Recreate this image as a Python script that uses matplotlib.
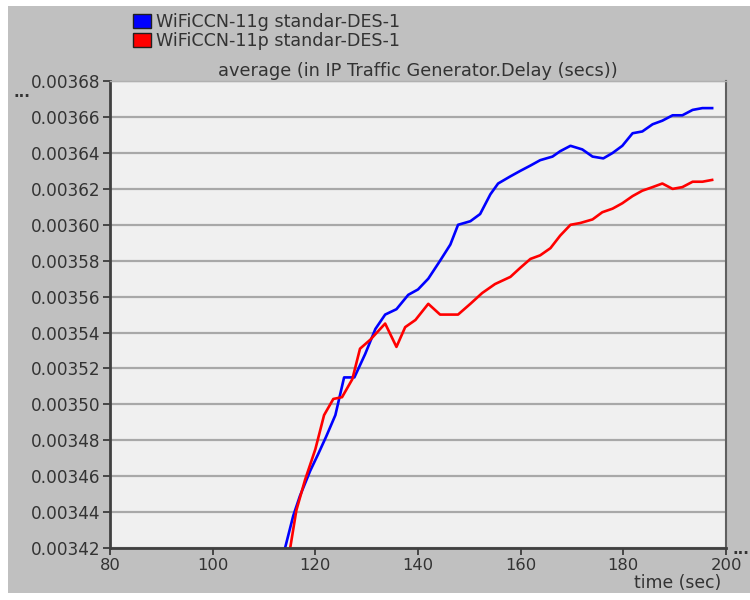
import numpy as np
import matplotlib
matplotlib.use("Agg")
import matplotlib.pyplot as plt
from matplotlib.patches import Patch, Rectangle

plt.rcParams['font.family'] = ['DejaVu Sans']

# series (time in sec, delay in secs)
t_11g = [114.1, 115.7, 117.0, 119.0, 120.5, 122.1, 123.9, 125.6, 127.6, 129.7,
         131.7, 133.6, 135.8, 138.1, 140.0, 142.0, 144.3, 146.3, 147.8, 150.2,
         152.1, 154.1, 155.6, 158.0, 159.9, 161.9, 163.8, 166.2, 167.7, 169.7,
         172.0, 174.0, 176.1, 177.9, 179.8, 181.8, 183.7, 185.7, 187.6, 189.6,
         191.5, 193.5, 195.4, 197.3]
d_11g = [0.003420, 0.003438, 0.003449, 0.003463, 0.003472, 0.003482, 0.003494,
         0.003515, 0.003515, 0.003528, 0.003542, 0.003550, 0.003553, 0.003561,
         0.003564, 0.003570, 0.003580, 0.003589, 0.003600, 0.003602, 0.003606,
         0.003617, 0.003623, 0.003627, 0.003630, 0.003633, 0.003636, 0.003638,
         0.003641, 0.003644, 0.003642, 0.003638, 0.003637, 0.003640, 0.003644,
         0.003651, 0.003652, 0.003656, 0.003658, 0.003661, 0.003661, 0.003664,
         0.003665, 0.003665]

t_11p = [115.1, 116.3, 118.0, 120.0, 121.7, 123.5, 125.2, 127.2, 128.7, 130.7,
         133.6, 135.8, 137.5, 139.5, 142.0, 144.3, 147.8, 150.2, 152.5, 155.0,
         158.0, 159.9, 161.9, 163.8, 165.8, 167.7, 169.7, 171.6, 174.0, 175.9,
         177.9, 179.8, 181.8, 183.7, 185.7, 187.6, 189.6, 191.5, 193.5, 195.4,
         197.3]
d_11p = [0.003420, 0.003441, 0.003458, 0.003475, 0.003494, 0.003503, 0.003504,
         0.003514, 0.003531, 0.003536, 0.003545, 0.003532, 0.003543, 0.003547,
         0.003556, 0.003550, 0.003550, 0.003556, 0.003562, 0.003567, 0.003571,
         0.003576, 0.003581, 0.003583, 0.003587, 0.003594, 0.003600, 0.003601,
         0.003603, 0.003607, 0.003609, 0.003612, 0.003616, 0.003619, 0.003621,
         0.003623, 0.003620, 0.003621, 0.003624, 0.003624, 0.003625]

labels = ['WiFiCCN-11g standar-DES-1', 'WiFiCCN-11p standar-DES-1']
colors = ['#0000ff', '#ff0000']
x_ticks = [80, 100, 120, 140, 160, 180, 200]
y_ticks = np.arange(0.00342, 0.003681, 0.00002)

fig = plt.figure(figsize=(7.5, 6), dpi=100)
fig.patch.set_facecolor('white')
# grey panel behind everything
fig.patches.append(Rectangle((0.0107, 0.0117), 0.995, 0.978, transform=fig.transFigure,
                             facecolor='#c0c0c0', edgecolor='none', zorder=-10))

ax = fig.add_axes([0.1467, 0.0867, 0.8213, 0.778])
ax.set_facecolor('#f0f0f0')

ax.plot(t_11g, d_11g, color=colors[0], lw=1.9)
ax.plot(t_11p, d_11p, color=colors[1], lw=1.9)

ax.set_xlim(80, 200)
ax.set_ylim(0.00342, 0.00368)
ax.set_xticks(x_ticks)
ax.set_yticks(y_ticks)
ax.set_yticklabels(['%.5f' % v for v in y_ticks])
ax.yaxis.grid(True, color='#a8a8a8', lw=1.6)
ax.set_axisbelow(True)

ax.tick_params(axis='both', direction='out', length=5, width=1.2, color='#303030',
               labelcolor='#333333', pad=2)
ax.tick_params(axis='y', labelsize=12.2)
ax.tick_params(axis='x', labelsize=11.8)

for side in ['left', 'bottom']:
    ax.spines[side].set_color('#404040')
    ax.spines[side].set_linewidth(2)
ax.spines['right'].set_color('#606060')
ax.spines['right'].set_linewidth(1.5)
ax.spines['top'].set_color('#b0b0b0')
ax.spines['top'].set_linewidth(1)

ax.set_title('average (in IP Traffic Generator.Delay (secs))', fontsize=12.8,
             color='#333333', pad=4)

handles = [Patch(facecolor=c, edgecolor='#202020', lw=1) for c in colors]
fig.legend(handles, labels, loc='upper left', bbox_to_anchor=(0.168, 0.99),
           frameon=False, fontsize=12.6, handlelength=1.0, handleheight=0.85,
           handletextpad=0.3, labelspacing=0.05, borderaxespad=0, labelcolor='#333333')

fig.text(0.018, 0.838, '...', fontsize=11, color='#333333', weight='bold')
fig.text(0.977, 0.077, '...', fontsize=11, color='#333333', weight='bold')
fig.text(0.961, 0.028, 'time (sec)', fontsize=12.4, color='#333333', ha='right', va='center')

fig.savefig('out.png', dpi=100, facecolor=fig.get_facecolor())
